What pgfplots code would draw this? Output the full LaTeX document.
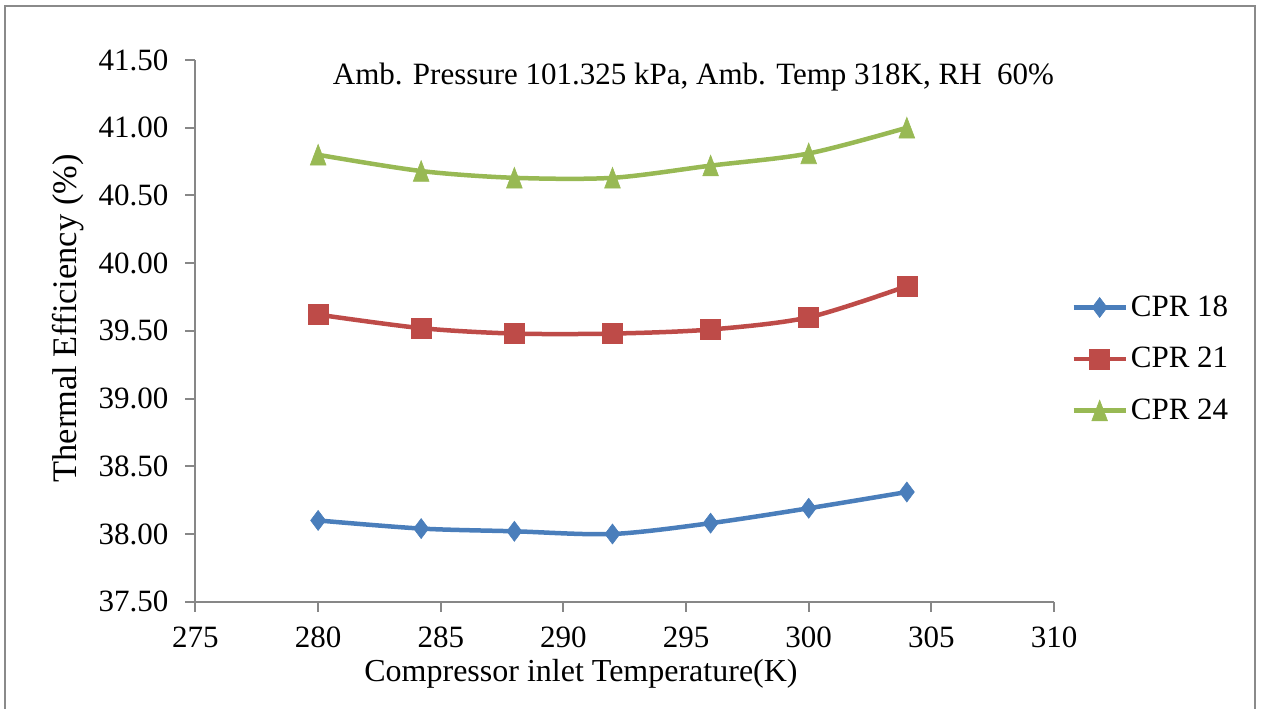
\documentclass[border=0pt]{standalone}
\usepackage{fontspec}
\setmainfont{Liberation Serif}
\usepackage{pgfplots}
\pgfplotsset{compat=1.18}

\definecolor{cpra}{HTML}{4A7EBB}
\definecolor{cprb}{HTML}{BE4B48}
\definecolor{cprc}{HTML}{98B954}
\definecolor{axgrey}{HTML}{878787}
\definecolor{framegrey}{HTML}{8A8A8A}

\newcommand{\chartfont}{\fontsize{15.5}{18}\selectfont}

\begin{document}
\begin{tikzpicture}[x=1pt,y=1pt]
% page area and outer chart frame
\useasboundingbox (-97.75,-53.15) rectangle (533.75,300.85);
\draw[framegrey, line width=1pt] (-95.25,-60) rectangle (529.75,297.85);

\begin{axis}[
  at={(0,0)}, anchor=south west,
  scale only axis,
  width=429.25pt, height=270.85pt,
  xmin=275, xmax=310, ymin=37.5, ymax=41.5,
  xtick={275,280,...,310},
  ytick={37.5,38,...,41.5},
  axis x line*=bottom, axis y line*=left,
  axis line style={draw=axgrey, line width=1pt, -},
  tick style={draw=axgrey, line width=1pt},
  tick align=outside,
  major tick length=5pt,
  /pgf/number format/assume math mode=true,
  yticklabel style={/pgf/number format/.cd, fixed, fixed zerofill, precision=2, /tikz/.cd, xshift=-5pt},
  xticklabel style={/pgf/number format/.cd, fixed, set thousands separator={}, /tikz/.cd, yshift=-4pt},
  tick label style={font=\chartfont, black},
  xlabel={Compressor inlet Temperature(K)},
  ylabel={Thermal Efficiency (\%)},
  every axis x label/.style={at={(axis description cs:0.449,-0.1477)}, anchor=base,
    font=\fontsize{16}{19}\selectfont, black},
  every axis y label/.style={at={(axis description cs:-0.1384,0.523)}, anchor=base, rotate=90,
    font=\fontsize{17.2}{20}\selectfont, black},
  legend style={at={(rel axis cs:1.0198,0.448)}, anchor=west, draw=none, fill=none,
    font=\chartfont, row sep=11pt, inner sep=0pt,
    nodes={inner sep=1.5pt}},
  legend cell align=left,
  legend image code/.code={%
    \draw[mark repeat=2, mark phase=2, #1] plot coordinates {(0pt,0pt) (13pt,0pt) (26pt,0pt)};},
  clip=false,
]

% CPR 18
\addplot[cpra, line width=2.25pt, smooth, tension=0.5,
  mark=diamond*, mark size=5pt, mark options={solid, fill=cpra, draw=cpra, line width=0.3pt}]
  coordinates {(280,38.10) (284.2,38.04) (288,38.02) (292,38.00) (296,38.08) (300,38.19) (304,38.31)};
\addlegendentry{CPR 18}

% CPR 21
\addplot[cprb, line width=2.25pt, smooth, tension=0.5,
  mark=square*, mark size=5pt, mark options={solid, fill=cprb, draw=cprb, line width=0.3pt}]
  coordinates {(280,39.62) (284.2,39.52) (288,39.48) (292,39.48) (296,39.51) (300,39.60) (304,39.83)};
\addlegendentry{CPR 21}

% CPR 24
\addplot[cprc, line width=2.25pt, smooth, tension=0.5,
  mark=triangle*, mark size=6.9pt, mark options={solid, fill=cprc, draw=cprc, line width=0.3pt, xscale=0.66, yshift=-1.7pt}]
  coordinates {(280,40.80) (284.2,40.68) (288,40.63) (292,40.63) (296,40.72) (300,40.81) (304,41.00)};
\addlegendentry{CPR 24}

\node[font=\chartfont, anchor=base] at (rel axis cs:0.580,0.954)
  {Amb. Pressure 101.325 kPa, Amb. Temp 318K, RH\ \ 60\%};
\end{axis}
\end{tikzpicture}
\end{document}
